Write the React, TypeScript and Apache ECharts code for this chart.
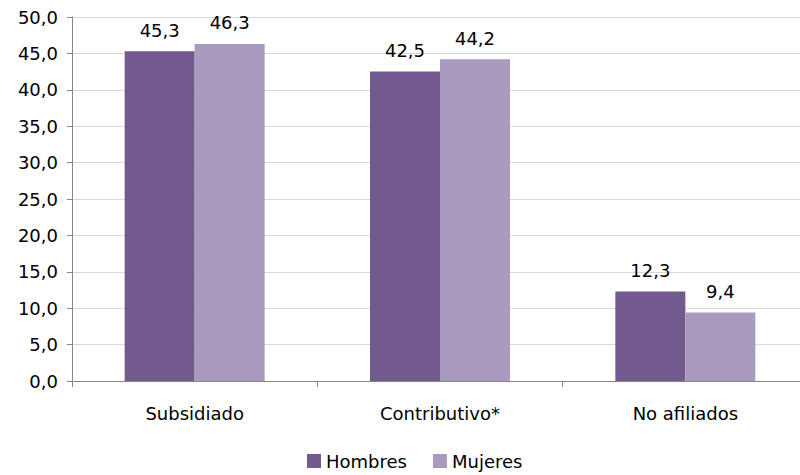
import React, { useEffect, useRef } from "react";
import * as echarts from "echarts";

const categories = ["Subsidiado", "Contributivo*", "No afiliados"];
const hombres = [45.3, 42.5, 12.3];
const mujeres = [46.3, 44.2, 9.4];
const seriesNames = ["Hombres", "Mujeres"];

const fmt = (v: number) => v.toFixed(1).replace(".", ",");

export default function App() {
  const ref = useRef<HTMLDivElement>(null);
  useEffect(() => {
    if (!ref.current) return;
    const chart = echarts.init(ref.current, undefined, { renderer: "svg" });
    const font = "DejaVu Sans";
    const fs = 18;
    chart.setOption({
      animation: false,
      textStyle: { fontFamily: font },
      grid: {
        left: 72,
        top: 17,
        width: 736,
        height: 364,
        containLabel: false,
        outerBoundsMode: "none",
      },
      legend: {
        data: seriesNames,
        left: 307,
        top: 452,
        padding: 0,
        itemWidth: 14,
        itemHeight: 14,
        itemGap: 26,
        icon: "rect",
        textStyle: { fontFamily: font, fontSize: fs, color: "#000" },
      },
      xAxis: {
        type: "category",
        data: categories,
        axisLine: { lineStyle: { color: "#868686", width: 1 } },
        axisTick: { show: true, length: 6, lineStyle: { color: "#868686" } },
        axisLabel: { fontFamily: font, fontSize: fs, color: "#000", margin: 23 },
      },
      yAxis: {
        type: "value",
        min: 0,
        max: 50,
        interval: 5,
        axisLine: { show: true, lineStyle: { color: "#868686" } },
        axisTick: { show: true, length: 5, lineStyle: { color: "#868686" } },
        splitLine: { lineStyle: { color: "#d9d9d9", width: 1 } },
        axisLabel: {
          fontFamily: font,
          fontSize: fs,
          color: "#000",
          margin: 14,
          formatter: (v: number) => fmt(v),
        },
      },
      series: [
        {
          name: seriesNames[0],
          type: "bar",
          data: hombres,
          barWidth: 70,
          barGap: "0%",
          itemStyle: { color: "#725a8f" },
          label: {
            show: true,
            position: "top",
            distance: 12,
            fontFamily: font,
            fontSize: fs,
            color: "#000",
            formatter: (p: any) => fmt(p.value),
          },
        },
        {
          name: seriesNames[1],
          type: "bar",
          data: mujeres,
          barWidth: 70,
          barGap: "0%",
          itemStyle: { color: "#a99bc0" },
          label: {
            show: true,
            position: "top",
            distance: 12,
            fontFamily: font,
            fontSize: fs,
            color: "#000",
            formatter: (p: any) => fmt(p.value),
          },
        },
      ],
    });
    return () => chart.dispose();
  }, []);
  return <div ref={ref} style={{ width: 800, height: 475, position: "absolute", left: 0, top: 0 }} />;
}
